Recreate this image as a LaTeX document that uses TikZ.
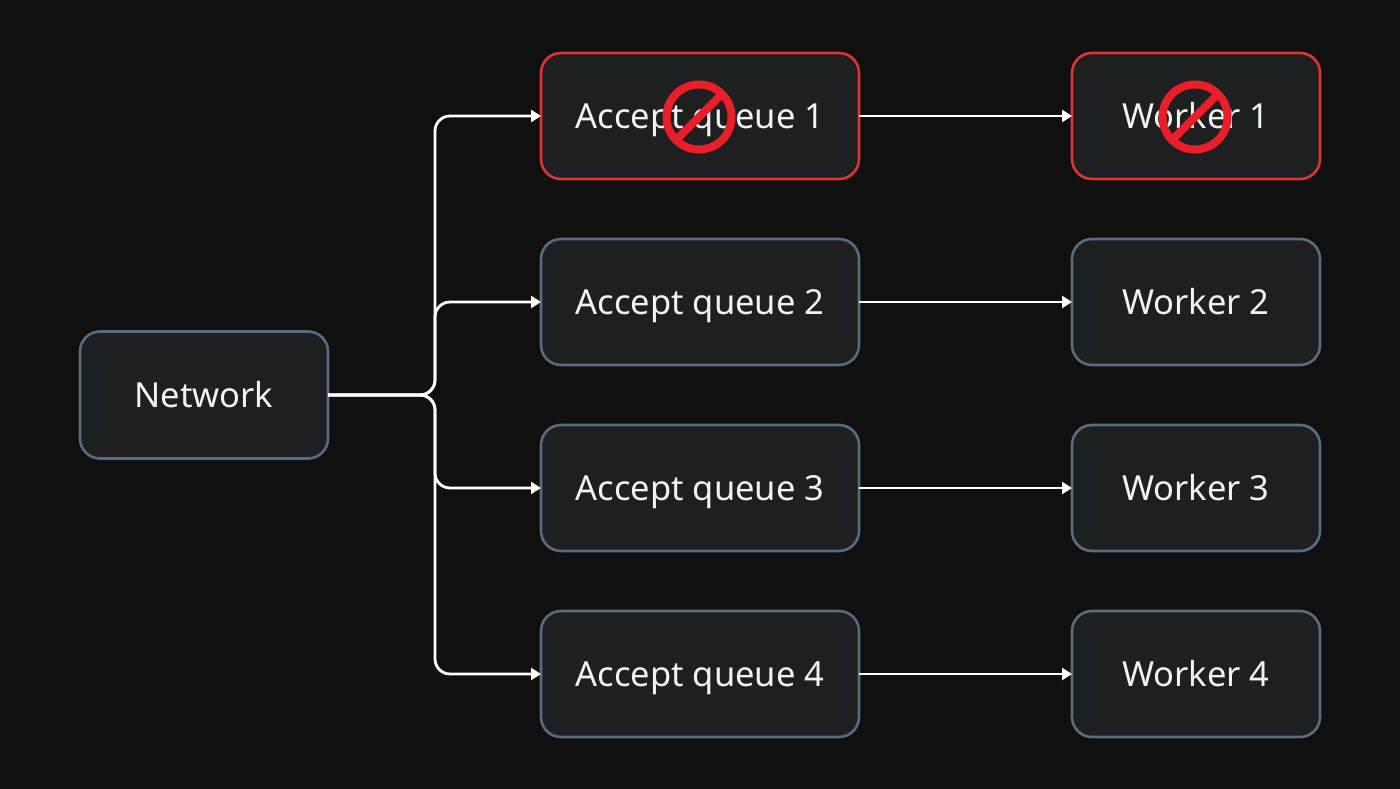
\documentclass[tikz,border=0pt]{standalone}
\usepackage{fontspec}
\setmainfont{Noto Sans}
\usetikzlibrary{arrows.meta}
\definecolor{bgc}{RGB}{16,16,17}
\definecolor{boxfill}{RGB}{30,31,32}
\definecolor{boxline}{RGB}{88,108,128}
\definecolor{redline}{RGB}{222,52,54}
\definecolor{signred}{RGB}{232,30,40}
\definecolor{txt}{RGB}{242,242,242}
\tikzset{
  box/.style={draw=boxline, fill=boxfill, line width=2.6pt, rounded corners=20pt,
    inner sep=0pt, outer sep=0pt, text=txt, text height=24.5pt, text depth=0pt,
    font=\fontsize{34.5}{40}\selectfont},
  qbox/.style={box, minimum width=318pt, minimum height=126pt},
  wbox/.style={box, minimum width=248pt, minimum height=126pt},
  bad/.style={draw=redline},
  conn/.style={draw=white, line width=2.8pt, rounded corners=15pt,
    -{Triangle[length=10pt,width=12pt]}},
  nosign/.style={draw=signred, line width=8pt}
}
\begin{document}
\begin{tikzpicture}[x=1pt,y=-1pt]
\fill[bgc] (0,0) rectangle (1400,789);
\useasboundingbox (0,0) rectangle (1400,789);
\node[box, minimum width=248pt, minimum height=127pt] (net) at (204,395) {Network};
\node[qbox, bad] (q1) at (700,116) {Accept queue 1};
\node[qbox] (q2) at (700,302) {Accept queue 2};
\node[qbox] (q3) at (700,488) {Accept queue 3};
\node[qbox] (q4) at (700,674) {Accept queue 4};
\node[wbox, bad] (w1) at (1196,116) {Worker 1};
\node[wbox] (w2) at (1196,302) {Worker 2};
\node[wbox] (w3) at (1196,488) {Worker 3};
\node[wbox] (w4) at (1196,674) {Worker 4};
\coordinate (j) at (435,395);
\foreach \q in {q1,q2,q3,q4}{
  \draw[conn] (net.east) -- (j) -- (j |- \q.west) -- (\q.west);
}
\foreach \i in {1,2,3,4}{
  \draw[conn] (q\i.east) -- (w\i.west);
}
\foreach \sx/\sy in {699/117,1195/117}{
  \begin{scope}[shift={(\sx,\sy)}]
    \draw[nosign] (0,0) circle (32.5pt);
    \draw[nosign] (135:32.5) -- (-45:32.5);
  \end{scope}
}
\end{tikzpicture}
\end{document}
